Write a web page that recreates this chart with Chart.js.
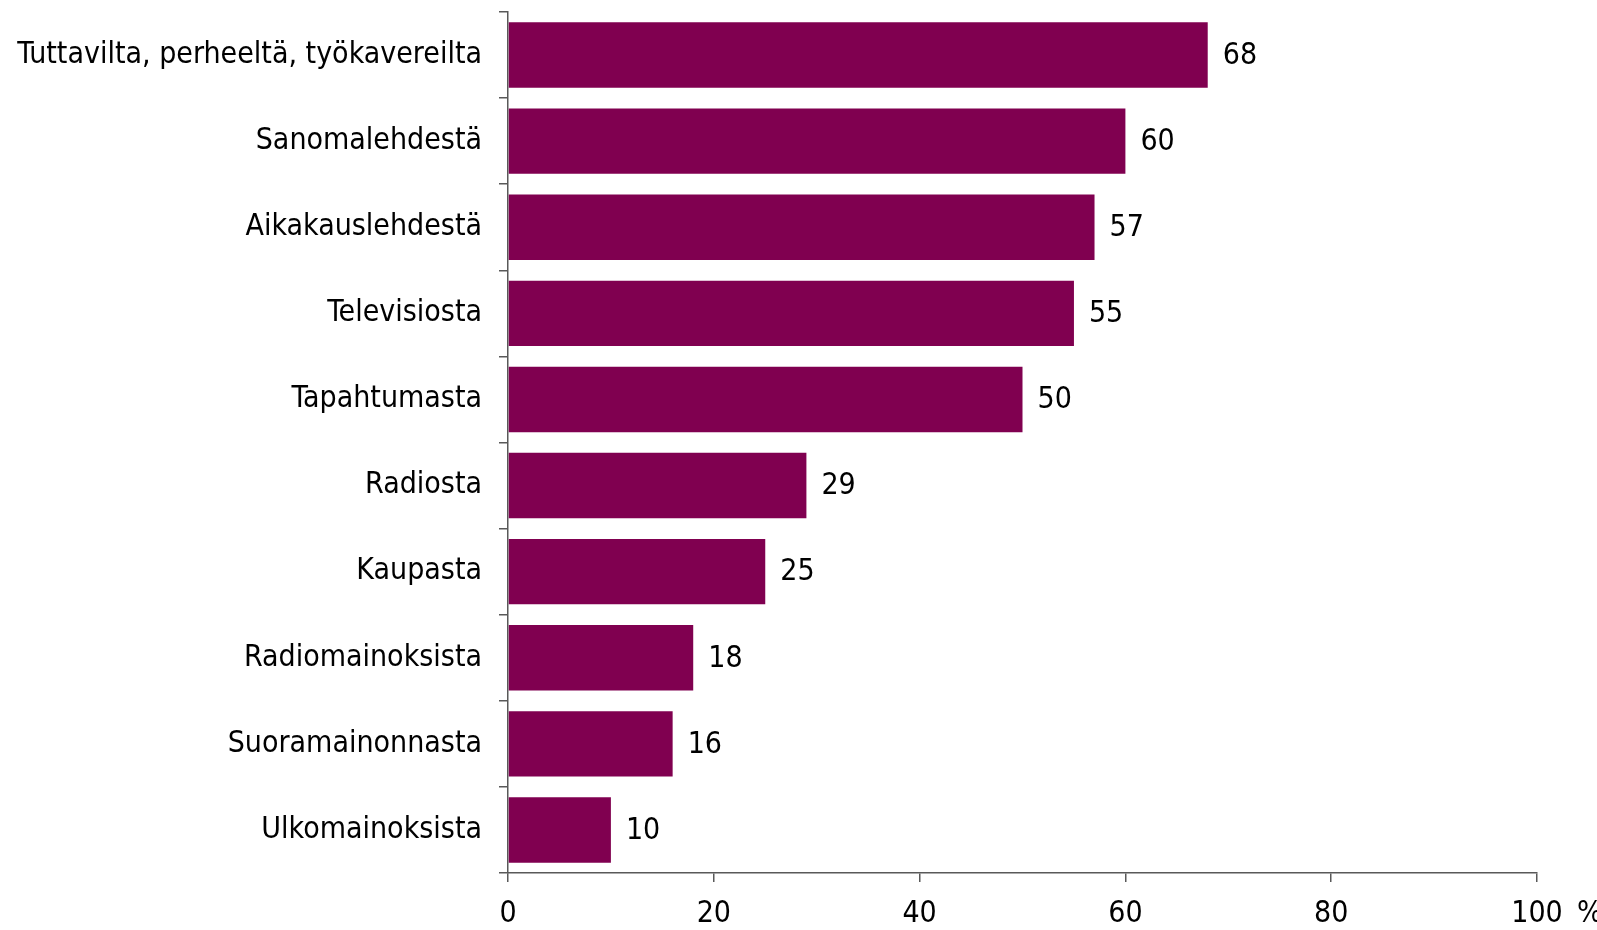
<!DOCTYPE html>
<html lang="fi">
<head>
  <meta charset="UTF-8">
  <title>Mistä tietoa</title>
  <script src="https://cdn.jsdelivr.net/npm/chart.js@4.4.0/dist/chart.umd.min.js"></script>
  <style>
    html, body { margin: 0; padding: 0; background: #fff; }
    #wrap { width: 1597px; height: 930px; }
  </style>
</head>
<body>
  <div id="wrap"><canvas id="chart"></canvas></div>
  <script>
    const categories = [
      'Tuttavilta, perheeltä, työkavereilta',
      'Sanomalehdestä',
      'Aikakauslehdestä',
      'Televisiosta',
      'Tapahtumasta',
      'Radiosta',
      'Kaupasta',
      'Radiomainoksista',
      'Suoramainonnasta',
      'Ulkomainoksista'
    ];
    const values = [68, 60, 57, 55, 50, 29, 25, 18, 16, 10];
    const xTicks = [0, 20, 40, 60, 80, 100];
    const unitLabel = '%';

    const FONT = '"DejaVu Sans Condensed", "DejaVu Sans", sans-serif';
    const FONT_SIZE = 30;
    const barColor = '#800050';
    const axisColor = '#595959';

    // value labels at the end of each bar
    const valueLabels = {
      id: 'valueLabels',
      afterDatasetsDraw(chart) {
        const ctx = chart.ctx;
        const meta = chart.getDatasetMeta(0);
        ctx.save();
        ctx.font = FONT_SIZE + 'px ' + FONT;
        ctx.fillStyle = '#000';
        ctx.textAlign = 'left';
        ctx.textBaseline = 'middle';
        meta.data.forEach((bar, i) => {
          ctx.fillText(String(values[i]), bar.x + 15, bar.y + 1);
        });
        ctx.restore();
      }
    };

    // "%" next to the last x tick label
    const unitMark = {
      id: 'unitMark',
      afterDraw(chart) {
        const x = chart.scales.x;
        const ctx = chart.ctx;
        ctx.save();
        ctx.font = FONT_SIZE + 'px ' + FONT;
        ctx.fillStyle = '#000';
        ctx.textAlign = 'left';
        ctx.textBaseline = 'middle';
        ctx.fillText(unitLabel, x.getPixelForValue(100) + 40, 914);
        ctx.restore();
      }
    };

    const chart = new Chart(document.getElementById('chart'), {
      type: 'bar',
      data: {
        labels: categories,
        datasets: [{
          data: values,
          backgroundColor: barColor,
          borderWidth: 0,
          categoryPercentage: 0.76,
          barPercentage: 1
        }]
      },
      plugins: [valueLabels, unitMark],
      options: {
        indexAxis: 'y',
        responsive: true,
        maintainAspectRatio: false,
        animation: false,
        layout: { padding: { left: 0, right: 60, top: 12, bottom: 0 } },
        plugins: {
          legend: { display: false },
          tooltip: { enabled: false }
        },
        scales: {
          x: {
            min: 0,
            max: 100,
            afterBuildTicks(scale) {
              scale.ticks = xTicks.map(v => ({ value: v }));
            },
            afterFit(scale) { scale.height = 57; },
            border: { display: true, color: axisColor, width: 1.5 },
            grid: {
              drawOnChartArea: false,
              drawTicks: true,
              tickLength: 9,
              color: axisColor,
              lineWidth: 1.5
            },
            ticks: {
              color: '#000',
              font: { family: FONT, size: FONT_SIZE },
              padding: 14,
              maxRotation: 0
            }
          },
          y: {
            afterFit(scale) {
              scale.width = 508;
              // keep the plot top at the layout padding
              scale.paddingTop = 0;
              scale.paddingBottom = 0;
            },
            border: { display: true, color: axisColor, width: 1.5 },
            grid: {
              offset: true,
              drawOnChartArea: false,
              drawTicks: true,
              tickLength: 9,
              color: axisColor,
              lineWidth: 1.5
            },
            ticks: {
              color: '#000',
              font: { family: FONT, size: FONT_SIZE },
              padding: 17
            }
          }
        }
      }
    });
  </script>
</body>
</html>
